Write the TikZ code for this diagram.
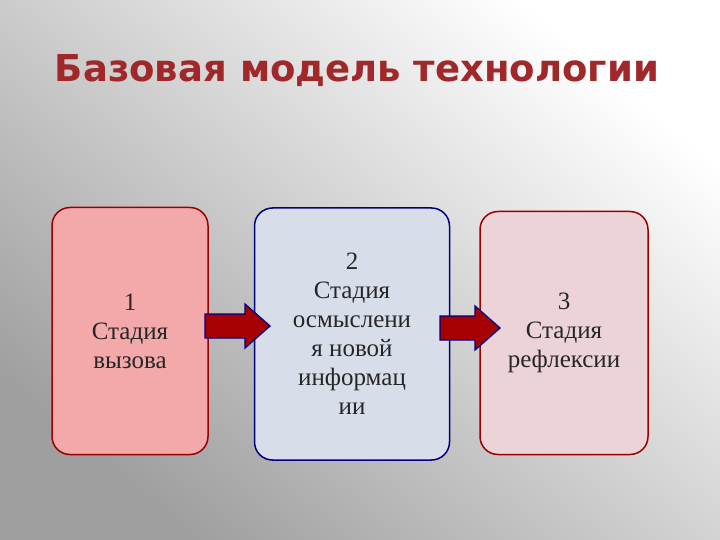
\documentclass[tikz,border=0pt]{standalone}
\usepackage{fontspec}
\setmainfont{Liberation Serif}
\newfontfamily\titlefont{DejaVu Sans}
\definecolor{tred}{HTML}{A0282A}
\tikzset{stage/.style={draw, line width=1.5pt, rounded corners=18pt, align=center, font=\fontsize{25}{29}\selectfont, text=black!85},
 arr/.style={draw=blue!55!black, line width=1.3pt, fill=red!65!black}}
\begin{document}
\begin{tikzpicture}[x=1pt,y=-1pt]
\shade[left color=gray!75, right color=white, shading angle=140] (0,0) rectangle (720,540);
\useasboundingbox (0,0) rectangle (720,540);
\node[font=\titlefont\bfseries\fontsize{37}{44}\selectfont, text=tred] (title) at (357,71) {Базовая модель технологии};
\node[stage, draw=red!60!black, fill={rgb,255:red,243;green,168;blue,170}, minimum width=156pt, minimum height=247pt] (s1) at (130,331) {1\\Стадия\\вызова};
\node[stage, draw=blue!50!black, fill={rgb,255:red,216;green,221;blue,234}, minimum width=195pt, minimum height=252pt] (s2) at (352,334) {2\\Стадия\\осмыслени\\я новой\\информац\\ии};
\node[stage, draw=red!60!black, fill={rgb,255:red,236;green,211;blue,216}, minimum width=168pt, minimum height=243pt] (s3) at (564,333) {3\\Стадия\\рефлексии};
\draw[arr] (205,314) -- (245,314) -- (245,304) -- (270,326) -- (245,348) -- (245,338) -- (205,338) -- cycle;
\draw[arr] (440,316) -- (475,316) -- (475,306) -- (500,328) -- (475,350) -- (475,340) -- (440,340) -- cycle;
\end{tikzpicture}
\end{document}
